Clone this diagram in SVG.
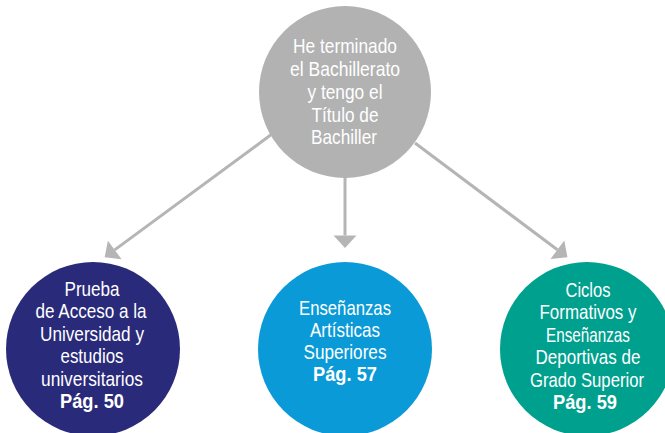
<svg xmlns="http://www.w3.org/2000/svg" width="665" height="433" viewBox="0 0 665 433">
<defs>
<style>
.t{font-family:"Liberation Sans Narrow","Liberation Sans",Arial,sans-serif;font-size:21px;fill:#ffffff;text-anchor:middle}
.b{font-weight:bold}
.c{fill:none;stroke:#b5b5b5;stroke-width:3}
</style>
<marker id="ah" markerUnits="userSpaceOnUse" markerWidth="14" markerHeight="24" refX="0" refY="11.5" orient="auto" overflow="visible">
<path d="M0,0 L12.5,11.5 L0,23 Z" fill="#b5b5b5"/>
</marker>
</defs>
<rect width="665" height="433" fill="#ffffff"/>
<g id="connectors">
<line class="c" x1="272" y1="134" x2="114.7" y2="249.9" marker-end="url(#ah)"/>
<line class="c" x1="345" y1="170" x2="345" y2="235.5" marker-end="url(#ah)"/>
<line class="c" x1="415" y1="143" x2="557.4" y2="249.8" marker-end="url(#ah)"/>
</g>
<g id="start">
<circle cx="345" cy="92" r="86" fill="#b2b2b2"/>
<text class="t" x="345" y="53" textLength="104" lengthAdjust="spacingAndGlyphs">He terminado</text>
<text class="t" x="345" y="76" textLength="110" lengthAdjust="spacingAndGlyphs">el Bachillerato</text>
<text class="t" x="345" y="99" textLength="75" lengthAdjust="spacingAndGlyphs">y tengo el</text>
<text class="t" x="345" y="122" textLength="67" lengthAdjust="spacingAndGlyphs">Título de</text>
<text class="t" x="344" y="144" textLength="66" lengthAdjust="spacingAndGlyphs">Bachiller</text>
</g>
<g id="universidad">
<circle cx="93" cy="349" r="87" fill="#2a2a7a"/>
<text class="t" x="92" y="296" textLength="55" lengthAdjust="spacingAndGlyphs">Prueba</text>
<text class="t" x="91" y="318" textLength="111" lengthAdjust="spacingAndGlyphs">de Acceso a la</text>
<text class="t" x="92" y="341" textLength="104" lengthAdjust="spacingAndGlyphs">Universidad y</text>
<text class="t" x="92" y="363" textLength="63" lengthAdjust="spacingAndGlyphs">estudios</text>
<text class="t" x="92" y="386" textLength="102" lengthAdjust="spacingAndGlyphs">universitarios</text>
<text class="t b" x="92" y="408" textLength="64" lengthAdjust="spacingAndGlyphs">Pág. 50</text>
</g>
<g id="artisticas">
<circle cx="345" cy="349" r="87" fill="#0a9ad7"/>
<text class="t" x="345" y="315" textLength="92" lengthAdjust="spacingAndGlyphs">Enseñanzas</text>
<text class="t" x="345" y="337" textLength="70" lengthAdjust="spacingAndGlyphs">Artísticas</text>
<text class="t" x="345" y="359" textLength="83" lengthAdjust="spacingAndGlyphs">Superiores</text>
<text class="t b" x="345" y="381" textLength="64" lengthAdjust="spacingAndGlyphs">Pág. 57</text>
</g>
<g id="ciclos">
<circle cx="587" cy="349" r="87" fill="#00a08e"/>
<text class="t" x="588" y="297" textLength="45" lengthAdjust="spacingAndGlyphs">Ciclos</text>
<text class="t" x="588" y="319" textLength="97" lengthAdjust="spacingAndGlyphs">Formativos y</text>
<text class="t" x="588" y="342" textLength="84" lengthAdjust="spacingAndGlyphs">Enseñanzas</text>
<text class="t" x="588" y="364" textLength="105" lengthAdjust="spacingAndGlyphs">Deportivas de</text>
<text class="t" x="587" y="387" textLength="114" lengthAdjust="spacingAndGlyphs">Grado Superior</text>
<text class="t b" x="585" y="409" textLength="64" lengthAdjust="spacingAndGlyphs">Pág. 59</text>
</g>
</svg>
